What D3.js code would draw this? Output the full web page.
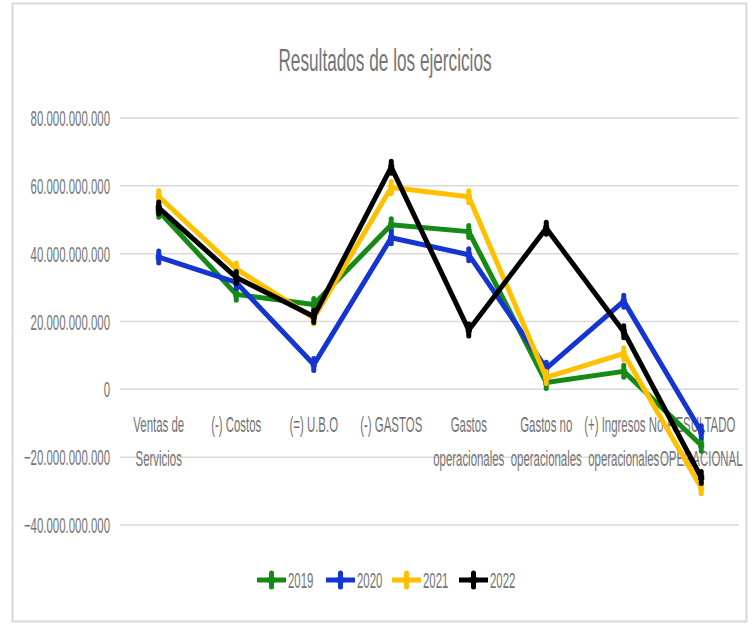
<!DOCTYPE html>
<html>
<head>
<meta charset="utf-8">
<script src="https://cdn.jsdelivr.net/npm/d3@7"></script>
<style>
  body { margin: 0; background: #fff; }
  svg text { font-family: "Liberation Sans", Arial, sans-serif; fill: #747474; }
</style>
</head>
<body>
<svg id="chart" width="755" height="627"></svg>
<script>
var categories = [
	["Ventas de", "Servicios"],
	["(-) Costos"],
	["(=) U.B.O"],
	["(-) GASTOS"],
	["Gastos", "operacionales"],
	["Gastos no", "operacionales"],
	["(+) Ingresos No", "operacionales"],
	["RESULTADO", "OPERACIONAL"]
];
var years = ["2019", "2020", "2021", "2022"];
var colors = ["#158a15", "#1435d2", "#ffc000", "#000000"];

var v2019 = [52.5e9, 28e9, 25e9, 48.5e9, 46.5e9, 2e9, 5.3e9, -16.5e9];
var v2020 = [39e9, 31.5e9, 7.3e9, 44.7e9, 39.7e9, 6.2e9, 26e9, -12.5e9];
var v2021 = [56.8e9, 35.5e9, 21e9, 59.5e9, 56.8e9, 3.5e9, 10.5e9, -29e9];
var v2022 = [53.5e9, 33e9, 21.5e9, 65.5e9, 17.5e9, 47.5e9, 17e9, -26e9];
var series = [v2019, v2020, v2021, v2022];

var yTicks = [80e9, 60e9, 40e9, 20e9, 0, -20e9, -40e9];

var svg = d3.select("#chart");
var sx = 0.52; // squeezed text, as in the picture

// chart border
svg.append("rect")
	.attr("x", 12.5).attr("y", 3.5)
	.attr("width", 734).attr("height", 618)
	.attr("fill", "#fff")
	.attr("stroke", "#d9d9d9")
	.attr("stroke-width", 2);

function squeezedText(g, x, y, str, size, anchor, s) {
	return g.append("text")
		.attr("transform", "translate(" + x + "," + y + ") scale(" + (s || sx) + ",1)")
		.attr("text-anchor", anchor)
		.attr("font-size", size)
		.text(str);
}

squeezedText(svg, 385, 71, "Resultados de los ejercicios", 31, "middle", 0.555);

var x = d3.scaleBand().domain(d3.range(categories.length)).range([120, 740]);
var y = d3.scaleLinear().domain([-40e9, 80e9]).range([525, 118]);

function fmt(d) {
	return d3.format(",")(d).replace(/,/g, ".");
}

// gridlines
svg.append("g").selectAll("line")
	.data(yTicks)
	.enter().append("line")
	.attr("x1", 120).attr("x2", 739)
	.attr("y1", function(d) { return y(d); })
	.attr("y2", function(d) { return y(d); })
	.attr("stroke", "#d9d9d9")
	.attr("stroke-width", 1.5);

// y labels
var yl = svg.append("g");
yTicks.forEach(function(t) {
	squeezedText(yl, 110, y(t) + 8, fmt(t), 22, "end");
});

// category labels
var xl = svg.append("g");
categories.forEach(function(lines, i) {
	var cx = x(i) + x.bandwidth() / 2;
	lines.forEach(function(s, j) {
		squeezedText(xl, cx, 432 + j * 34, s, 22, "middle");
	});
});

var line = d3.line()
	.x(function(d, i) { return x(i) + x.bandwidth() / 2; })
	.y(function(d) { return y(d); });

function plus(g, px, py, color, w, h, sw) {
	g.append("line").attr("x1", px - w).attr("x2", px + w).attr("y1", py).attr("y2", py)
		.attr("stroke", color).attr("stroke-width", sw);
	g.append("line").attr("x1", px).attr("x2", px).attr("y1", py - h).attr("y2", py + h)
		.attr("stroke", color).attr("stroke-width", sw).attr("stroke-linecap", "round");
}

series.forEach(function(vals, k) {
	var g = svg.append("g");
	g.append("path")
		.datum(vals)
		.attr("d", line)
		.attr("fill", "none")
		.attr("stroke", colors[k])
		.attr("stroke-width", 5)
		.attr("stroke-linejoin", "round");
	vals.forEach(function(v, i) {
		plus(g, x(i) + x.bandwidth() / 2, y(v), colors[k], 3, 6, 5);
	});
});

// legend
var legX = [257, 326, 392, 459];
var lg = svg.append("g");
years.forEach(function(yr, k) {
	var lx = legX[k], ly = 580;
	lg.append("line").attr("x1", lx).attr("x2", lx + 29).attr("y1", ly).attr("y2", ly)
		.attr("stroke", colors[k]).attr("stroke-width", 5);
	plus(lg, lx + 14.5, ly, colors[k], 4, 7, 5);
	squeezedText(lg, lx + 31, ly + 8, yr, 22, "start");
});
</script>
</body>
</html>
